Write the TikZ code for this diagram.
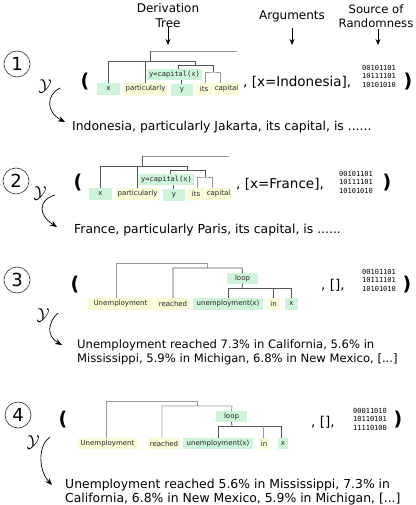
\documentclass[tikz,border=0pt]{standalone}
\usepackage{fontspec}
\setmainfont{DejaVu Sans}
\setmonofont{DejaVu Sans Mono}
\usetikzlibrary{arrows.meta}
\definecolor{leafg}{HTML}{CCF5DA}
\definecolor{leafy}{HTML}{F8FBD6}
\definecolor{tdark}{HTML}{555555}
\definecolor{tlight}{HTML}{9A9A9A}
\tikzset{
  leaf/.style={inner sep=0pt, outer sep=0pt, anchor=north west, text=black!85, font=\fontsize{7}{8}\selectfont},
  gl/.style={leaf, fill=leafg},
  yl/.style={leaf, fill=leafy},
  sz/.style 2 args={minimum width=#1pt, minimum height=#2pt},
  monolab/.style={font=\ttfamily\fontsize{7}{8}\selectfont},
  td/.style={draw=tdark, line width=0.8pt},
  tl/.style={draw=tlight, line width=0.8pt},
  numcirc/.style={circle, draw=black!80, line width=0.6pt, minimum size=26pt, inner sep=0pt, font=\fontsize{18}{18}\selectfont},
  paren/.style={font=\bfseries\fontsize{19}{19}\selectfont, inner sep=0pt},
  argtxt/.style={anchor=west, inner sep=0pt, font=\fontsize{13.5}{15}\selectfont},
  bin/.style={align=center, inner sep=0pt, font=\ttfamily\fontsize{7}{8.5}\selectfont},
  sent/.style={anchor=west, inner sep=0pt, align=left, font=\fontsize{12.4}{14}\selectfont},
  hdr/.style={align=center, inner sep=0pt, font=\fontsize{12}{15}\selectfont},
  hdarrow/.style={-{Stealth[length=6pt,width=5pt]}, line width=0.8pt},
  yarrow/.style={-{Stealth[length=7pt,width=5.5pt]}, line width=0.7pt},
  scry/.style={inner sep=0pt, font=\fontsize{18}{18}\selectfont},
}
\newcommand\captree[1]{%
  \node[gl,sz={23}{12}] (#1x) at (97,83) {x};
  \node[yl,sz={43}{12}] (#1pa) at (124,83) {particularly};
  \node[gl,sz={55}{11},monolab] (#1yc) at (147,69) {y=capital(x)};
  \node[gl,sz={22}{12}] (#1y) at (171,84) {y};
  \node[yl,sz={16}{12}] (#1its) at (196,83) {its};
  \node[yl,sz={25}{12}] (#1cap) at (214,83) {capital};
  \coordinate (#1r) at (150,51);
  \coordinate (#1re) at (237,51);
  \coordinate (#1a) at (150,61);
  \coordinate (#1b) at (195,61);
  \coordinate (#1c) at (195,65);
  \coordinate (#1d) at (213,65);
  \coordinate (#1e) at (213,72);
  \draw[tl] (#1r) -- (#1re);
  \draw[td] (#1r) -- (#1a);
  \draw[td] (#1x.north) |- (#1b) -- (#1c);
  \draw[td] (#1pa.north) -- (#1pa.north |- #1a);
  \draw[td] ([xshift=3.5pt]#1yc.north) |- (#1d) -- (#1e);
  \draw[td] ([xshift=-1pt]#1y.north) -- ([xshift=-1pt]#1y.north |- #1yc.south);
  \draw[tl] ([xshift=1.5pt]#1its.north) |- (#1e) -| ([xshift=6.5pt]#1cap.north west);
}
\begin{document}
\begin{tikzpicture}[x=1pt,y=-1pt]
\useasboundingbox[fill=white] (0,0) rectangle (415,505);

% headers
\node[hdr] (hd) at (168,15.5) {Derivation\\Tree};
\node[hdr] (ha) at (292,16) {Arguments};
\node[hdr,font=\fontsize{11.6}{14}\selectfont] (hs) at (376,16) {Source of\\Randomness};
\coordinate (hde) at (168,45);
\coordinate (hae) at (292,45);
\coordinate (hse) at (378,45);
\draw[hdarrow] (hd.south) ++(0,-1) coordinate (hds) -- (hde);
\draw[hdarrow] (292,28) coordinate (has) -- (hae);
\draw[hdarrow] (378,29) coordinate (hss) -- (hse);

% ---------- panel 1
\node[numcirc] (c1) at (17,64) {1};
\node[scry] (y1) at (45,86) {$\mathcal{Y}$};
\coordinate (a1s) at (60,88);
\coordinate (a1e) at (65,122);
\draw[yarrow] (a1s) .. controls (46,95) and (46,112) .. (a1e);
\node[paren] (o1) at (85,82) {(};
\captree{p}
\node[argtxt] (g1) at (243,82) {, [x=Indonesia],};
\node[bin] (b1) at (379,76) {00101101\\10111101\\10101010};
\node[paren] (e1) at (408,82) {)};
\node[sent] (s1) at (72,127) {Indonesia, particularly Jakarta, its capital, is ......};

% ---------- panel 2
\node[numcirc] (c2) at (16,181) {2};
\node[scry] (y2) at (40,193) {$\mathcal{Y}$};
\coordinate (a2s) at (55,195);
\coordinate (a2e) at (57,227);
\draw[yarrow] (a2s) .. controls (38,200) and (38,215) .. (a2e);
\node[paren] (o2) at (78,183) {(};
\begin{scope}[shift={(-8,105)}]
\captree{q}
\end{scope}
\node[argtxt] (g2) at (236,184) {, [x=France],};
\node[bin] (b2) at (356,182) {00101101\\10111101\\10101010};
\node[paren] (e2) at (387,183) {)};
\node[sent] (s2) at (74,230) {France, particularly Paris, its capital, is ......};

% ---------- panel 3
\node[numcirc] (c3) at (17,280) {3};
\node[scry] (y3) at (43,315) {$\mathcal{Y}$};
\coordinate (a3s) at (58,313);
\coordinate (a3e) at (62,345);
\draw[yarrow] (a3s) .. controls (48,322) and (46,336) .. (a3e);
\node[paren] (o3) at (75,285) {(};
\node[yl,sz={65}{12}] (u3) at (88,298) {Unemployment};
\node[yl,sz={34}{12}] (r3) at (156,298) {reached};
\node[gl,sz={70}{12}] (ux3) at (193,298) {unemployment(x)};
\node[yl,sz={13}{12}] (in3) at (267,298) {in};
\node[gl,sz={13}{12}] (x3) at (285,298) {x};
\node[gl,sz={31}{11}] (l3) at (227,273) {loop};
\coordinate (t3b) at (207,263);
\coordinate (t3c) at (207,268);
\coordinate (t3d) at (242,268);
\coordinate (t3e) at (242,288);
\draw[tl] ([xshift=-4.5pt]u3.north) |- (t3b) -- (t3c);
\draw[td] (r3.north) |- (t3d) -- (l3.north);
\draw[td] (l3.south) -- (t3e);
\draw[td] (ux3.north) |- (x3.north |- t3e) -- (x3.north);
\draw[td] (in3.north) -- (in3.north |- t3e);
\node[argtxt] (g3) at (321,285) {, [],};
\node[bin] (b3) at (379,280) {00101101\\10111101\\10101010};
\node[paren] (e3) at (407,285) {)};
\node[sent,font=\fontsize{11.6}{14}\selectfont] (s3) at (77,352) {Unemployment reached 7.3\% in California, 5.6\% in\\Mississippi, 5.9\% in Michigan, 6.8\% in New Mexico, [...]};

% ---------- panel 4
\node[numcirc] (c4) at (18,415) {4};
\node[scry] (y4) at (33,442) {$\mathcal{Y}$};
\coordinate (a4s) at (50,437);
\coordinate (a4e) at (52,485);
\draw[yarrow] (a4s) .. controls (38,445) and (38,470) .. (a4e);
\node[paren] (o4) at (63,420) {(};
\node[yl,sz={59}{11}] (u4) at (78,438) {Unemployment};
\node[yl,sz={32}{11}] (r4) at (148,438) {reached};
\node[gl,sz={70}{11}] (ux4) at (183,438) {unemployment(x)};
\node[yl,sz={10}{11}] (in4) at (259,438) {in};
\node[gl,sz={10}{11}] (x4) at (278,438) {x};
\node[gl,sz={31}{11}] (l4) at (216,411) {loop};
\coordinate (t4b) at (197,401);
\coordinate (t4c) at (197,406);
\coordinate (t4d) at (232,406);
\coordinate (t4e) at (232,426);
\draw[tl] ([xshift=-1.5pt]u4.north) |- (t4b) -- (t4c);
\draw[tl] ([xshift=-2pt]r4.north) |- (t4d) -- (l4.north);
\draw[td] (l4.south) -- (t4e);
\draw[td] (ux4.north) |- ([xshift=-2pt]x4.north |- t4e) -- ([xshift=-2pt]x4.north);
\draw[tl] ([xshift=-1pt]in4.north) -- ([xshift=-1pt]in4.north |- t4e);
\node[argtxt] (g4) at (311,422) {, [],};
\node[bin] (b4) at (370,419) {00011010\\10110101\\11110100};
\node[paren] (e4) at (398,420) {)};
\node[sent] (s4) at (65,492) {Unemployment reached 5.6\% in Mississippi, 7.3\% in\\California, 6.8\% in New Mexico, 5.9\% in Michigan, [...]};
\end{tikzpicture}
\end{document}
